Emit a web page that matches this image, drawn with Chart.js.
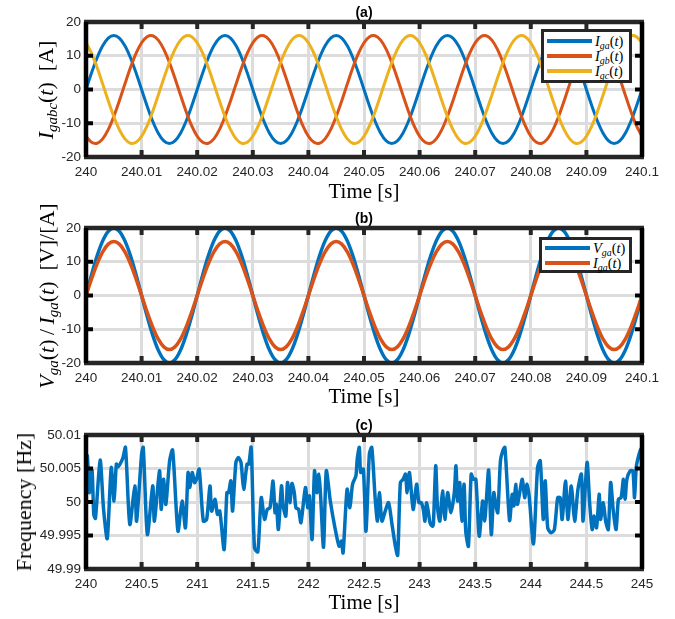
<!DOCTYPE html>
<html>
<head>
<meta charset="utf-8">
<script src="https://cdn.jsdelivr.net/npm/chart.js@4.4.1/dist/chart.umd.min.js"></script>
<style>
  body { margin: 0; background: #fff; width: 675px; height: 619px; position: relative; overflow: hidden; }
  canvas { position: absolute; left: 0; }
  .ytitle { position: absolute; font-family: "Liberation Serif", serif; font-size: 22px; line-height: 1; white-space: nowrap;
            transform: translate(-50%, -50%) rotate(-90deg); color: #000; }
  .ytitle sub, .ltext sub { font-size: 0.68em; line-height: 0; vertical-align: -0.3em; }
  .lbox { position: absolute; background: #fff; border: 3px solid #262626; box-sizing: border-box; }
  .sw { position: absolute; height: 4px; width: 45px; }
  .ltext { position: absolute; font-family: "Liberation Serif", serif; font-size: 14.5px; line-height: 1; transform: translateY(-50%); white-space: nowrap; }
</style>
</head>
<body>
<canvas id="chartA" width="675" height="205" style="top:0px"></canvas>
<canvas id="chartB" width="675" height="205" style="top:205px"></canvas>
<canvas id="chartC" width="675" height="209" style="top:410px"></canvas>

<div class="ytitle" style="left:46px;top:90px"><i>I</i><sub><i>gabc</i></sub>(<i>t</i>)&nbsp;&nbsp;[A]</div>
<div class="ytitle" style="left:47px;top:296px"><i>V</i><sub><i>ga</i></sub>(<i>t</i>)&thinsp;/&thinsp;<i>I</i><sub><i>ga</i></sub>(<i>t</i>)&nbsp;&nbsp;[V]/[A]</div>
<div class="ytitle" style="left:24px;top:502px">Frequency&nbsp;[Hz]</div>

<!-- legend (a) -->
<div class="lbox" style="left:541px;top:29px;width:91px;height:54px"></div>
<div class="sw" style="left:547px;top:39px;background:#0072BD"></div>
<div class="ltext" style="left:595px;top:41px"><i>I</i><sub><i>ga</i></sub>(<i>t</i>)</div>
<div class="sw" style="left:547px;top:54px;background:#D95319"></div>
<div class="ltext" style="left:595px;top:56px"><i>I</i><sub><i>gb</i></sub>(<i>t</i>)</div>
<div class="sw" style="left:547px;top:69px;background:#EDB120"></div>
<div class="ltext" style="left:595px;top:71px"><i>I</i><sub><i>gc</i></sub>(<i>t</i>)</div>

<!-- legend (b) -->
<div class="lbox" style="left:539px;top:237px;width:93px;height:36px"></div>
<div class="sw" style="left:545px;top:246px;background:#0072BD"></div>
<div class="ltext" style="left:593px;top:248px"><i>V</i><sub><i>ga</i></sub>(<i>t</i>)</div>
<div class="sw" style="left:545px;top:261px;background:#D95319"></div>
<div class="ltext" style="left:593px;top:263px"><i>I</i><sub><i>ga</i></sub>(<i>t</i>)</div>

<script>
// time axis of panels (a) and (b), 1 ms samples
const timeAB = [
  240.000, 240.001, 240.002, 240.003, 240.004, 240.005, 240.006, 240.007, 240.008, 240.009,
  240.010, 240.011, 240.012, 240.013, 240.014, 240.015, 240.016, 240.017, 240.018, 240.019,
  240.020, 240.021, 240.022, 240.023, 240.024, 240.025, 240.026, 240.027, 240.028, 240.029,
  240.030, 240.031, 240.032, 240.033, 240.034, 240.035, 240.036, 240.037, 240.038, 240.039,
  240.040, 240.041, 240.042, 240.043, 240.044, 240.045, 240.046, 240.047, 240.048, 240.049,
  240.050, 240.051, 240.052, 240.053, 240.054, 240.055, 240.056, 240.057, 240.058, 240.059,
  240.060, 240.061, 240.062, 240.063, 240.064, 240.065, 240.066, 240.067, 240.068, 240.069,
  240.070, 240.071, 240.072, 240.073, 240.074, 240.075, 240.076, 240.077, 240.078, 240.079,
  240.080, 240.081, 240.082, 240.083, 240.084, 240.085, 240.086, 240.087, 240.088, 240.089,
  240.090, 240.091, 240.092, 240.093, 240.094, 240.095, 240.096, 240.097, 240.098, 240.099,
  240.100
];

const iga = [
  0, 4.94, 9.4, 12.94, 15.22, 16, 15.22, 12.94, 9.4, 4.94, 0, -4.94, -9.4, -12.94, -15.22, -16, -15.22, -12.94, -9.4, -4.94,
  0, 4.94, 9.4, 12.94, 15.22, 16, 15.22, 12.94, 9.4, 4.94, 0, -4.94, -9.4, -12.94, -15.22, -16, -15.22, -12.94, -9.4, -4.94,
  0, 4.94, 9.4, 12.94, 15.22, 16, 15.22, 12.94, 9.4, 4.94, 0, -4.94, -9.4, -12.94, -15.22, -16, -15.22, -12.94, -9.4, -4.94,
  0, 4.94, 9.4, 12.94, 15.22, 16, 15.22, 12.94, 9.4, 4.94, 0, -4.94, -9.4, -12.94, -15.22, -16, -15.22, -12.94, -9.4, -4.94,
  0, 4.94, 9.4, 12.94, 15.22, 16, 15.22, 12.94, 9.4, 4.94, 0, -4.94, -9.4, -12.94, -15.22, -16, -15.22, -12.94, -9.4, -4.94,
  0
];
const igb = [
  -13.86, -15.65, -15.91, -14.62, -11.89, -8, -3.33, 1.67, 6.51, 10.71, 13.86, 15.65, 15.91, 14.62, 11.89, 8, 3.33, -1.67, -6.51, -10.71,
  -13.86, -15.65, -15.91, -14.62, -11.89, -8, -3.33, 1.67, 6.51, 10.71, 13.86, 15.65, 15.91, 14.62, 11.89, 8, 3.33, -1.67, -6.51, -10.71,
  -13.86, -15.65, -15.91, -14.62, -11.89, -8, -3.33, 1.67, 6.51, 10.71, 13.86, 15.65, 15.91, 14.62, 11.89, 8, 3.33, -1.67, -6.51, -10.71,
  -13.86, -15.65, -15.91, -14.62, -11.89, -8, -3.33, 1.67, 6.51, 10.71, 13.86, 15.65, 15.91, 14.62, 11.89, 8, 3.33, -1.67, -6.51, -10.71,
  -13.86, -15.65, -15.91, -14.62, -11.89, -8, -3.33, 1.67, 6.51, 10.71, 13.86, 15.65, 15.91, 14.62, 11.89, 8, 3.33, -1.67, -6.51, -10.71,
  -13.86
];
const igc = [
  13.86, 10.71, 6.51, 1.67, -3.33, -8, -11.89, -14.62, -15.91, -15.65, -13.86, -10.71, -6.51, -1.67, 3.33, 8, 11.89, 14.62, 15.91, 15.65,
  13.86, 10.71, 6.51, 1.67, -3.33, -8, -11.89, -14.62, -15.91, -15.65, -13.86, -10.71, -6.51, -1.67, 3.33, 8, 11.89, 14.62, 15.91, 15.65,
  13.86, 10.71, 6.51, 1.67, -3.33, -8, -11.89, -14.62, -15.91, -15.65, -13.86, -10.71, -6.51, -1.67, 3.33, 8, 11.89, 14.62, 15.91, 15.65,
  13.86, 10.71, 6.51, 1.67, -3.33, -8, -11.89, -14.62, -15.91, -15.65, -13.86, -10.71, -6.51, -1.67, 3.33, 8, 11.89, 14.62, 15.91, 15.65,
  13.86, 10.71, 6.51, 1.67, -3.33, -8, -11.89, -14.62, -15.91, -15.65, -13.86, -10.71, -6.51, -1.67, 3.33, 8, 11.89, 14.62, 15.91, 15.65,
  13.86
];
const vga = [
  0, 6.18, 11.76, 16.18, 19.02, 20, 19.02, 16.18, 11.76, 6.18, 0, -6.18, -11.76, -16.18, -19.02, -20, -19.02, -16.18, -11.76, -6.18,
  0, 6.18, 11.76, 16.18, 19.02, 20, 19.02, 16.18, 11.76, 6.18, 0, -6.18, -11.76, -16.18, -19.02, -20, -19.02, -16.18, -11.76, -6.18,
  0, 6.18, 11.76, 16.18, 19.02, 20, 19.02, 16.18, 11.76, 6.18, 0, -6.18, -11.76, -16.18, -19.02, -20, -19.02, -16.18, -11.76, -6.18,
  0, 6.18, 11.76, 16.18, 19.02, 20, 19.02, 16.18, 11.76, 6.18, 0, -6.18, -11.76, -16.18, -19.02, -20, -19.02, -16.18, -11.76, -6.18,
  0, 6.18, 11.76, 16.18, 19.02, 20, 19.02, 16.18, 11.76, 6.18, 0, -6.18, -11.76, -16.18, -19.02, -20, -19.02, -16.18, -11.76, -6.18,
  0
];

// panel (c): frequency
const timeC = [
  240.000, 240.012, 240.030, 240.042, 240.055, 240.070, 240.085, 240.127, 240.158, 240.191,
  240.227, 240.252, 240.273, 240.288, 240.309, 240.333, 240.355, 240.394, 240.439, 240.455,
  240.500, 240.515, 240.552, 240.600, 240.615, 240.661, 240.676, 240.697, 240.718, 240.752,
  240.779, 240.827, 240.864, 240.894, 240.918, 240.933, 240.955, 240.976, 240.994, 241.018,
  241.055, 241.085, 241.115, 241.130, 241.161, 241.182, 241.203, 241.242, 241.267, 241.282,
  241.303, 241.318, 241.348, 241.370, 241.394, 241.418, 241.448, 241.464, 241.485, 241.515,
  241.545, 241.576, 241.606, 241.630, 241.655, 241.682,
  241.700, 241.712, 241.730, 241.758, 241.773, 241.797, 241.812, 241.833, 241.852, 241.873,
  241.888, 241.912, 241.933, 241.973, 241.994, 242.009, 242.033, 242.055, 242.076, 242.094,
  242.109, 242.136, 242.161, 242.197, 242.236, 242.276, 242.297, 242.312, 242.348, 242.373,
  242.397, 242.427, 242.439, 242.458, 242.470, 242.494, 242.518, 242.548, 242.570, 242.600,
  242.621, 242.639, 242.661, 242.691, 242.721, 242.752, 242.782, 242.803, 242.827, 242.852,
  242.873, 242.888, 242.909, 242.942, 242.973, 242.994, 243.015, 243.033, 243.048, 243.064,
  243.094, 243.115, 243.124, 243.145, 243.161, 243.182, 243.206, 243.227, 243.252, 243.282,
  243.312, 243.327,
  243.342, 243.361, 243.379, 243.400, 243.415, 243.439, 243.464, 243.485, 243.506, 243.536,
  243.567, 243.585, 243.600, 243.621, 243.645, 243.667, 243.682, 243.703, 243.727, 243.748,
  243.767, 243.809, 243.833, 243.848, 243.864, 243.879, 243.900, 243.924, 243.945, 243.964,
  243.985,
  244.024, 244.061, 244.085, 244.112, 244.130, 244.152, 244.182, 244.212, 244.242, 244.264,
  244.282, 244.312, 244.333, 244.364, 244.394, 244.424, 244.455, 244.470, 244.506, 244.530,
  244.552, 244.567, 244.591, 244.615, 244.627, 244.652, 244.673, 244.697, 244.718, 244.742,
  244.767, 244.788, 244.812, 244.833, 244.848, 244.864, 244.894, 244.918, 244.933, 244.948,
  244.970, 244.991, 245.000
];
const freqC = [
  50.00465, 50.0069, 50.0014, 50.00465, 50.00475, 49.99815, 49.99755, 50.00625, 49.9989, 49.99455,
  50.00515, 50.00015, 50.00565, 50.00525, 50.00575, 50.00665, 50.00815, 49.99665, 50.0024, 49.99715,
  50.00715, 50.00815, 49.99515, 50.0024, 49.99715, 50.00465, 49.9989, 50.0034, 49.99965, 50.00615,
  50.00775, 49.99565, 50.00015, 49.99615, 50.0044, 50.00215, 50.0044, 50.0029, 50.0034, 50.0049,
  49.99715, 49.9974, 50.0024, 49.99865, 50.0004, 49.99815, 49.99865, 49.9929, 50.0014, 50.0014,
  50.00315, 49.99865, 50.0059, 50.00665, 50.0059, 50.0019, 50.00565, 50.00565, 50.00815, 49.99315,
  49.99255, 50.00065, 49.9974, 49.9989, 49.99915, 50.00315,
  49.9984, 49.99965, 49.9959, 50.0024, 49.9994, 49.9979, 50.0029, 49.9999, 50.00275, 50.0014,
  49.99915, 49.9989, 49.9969, 50.00215, 49.99915, 50.0009, 49.9944, 50.00465, 50.0014, 50.00415,
  50.00115, 49.99325, 50.00465, 50.00015, 49.9964, 49.9934, 49.99415, 49.9924, 50.0019, 49.99915,
  50.00265, 50.0039, 50.0064, 50.00815, 50.0044, 50.0049, 49.99565, 50.00715, 50.00815, 50.00065,
  49.99715, 50.0014, 49.99715, 49.99865, 49.9999, 49.99665, 49.9934, 49.99205, 50.0029, 50.0034,
  50.00415, 50.0014, 50.0044, 49.9989, 50.00265, 49.9999, 49.9999, 49.9989, 49.99715, 49.9999,
  49.9969, 49.9964, 49.99665, 50.0054, 49.99915, 49.99715, 50.00165, 49.9974, 50.0014, 49.9984,
  50.0014, 50.0054,
  50.00015, 50.0029, 49.99715, 50.00265, 49.99565, 49.9934, 50.00415, 50.0034, 50.0034, 49.9949,
  50.00015, 49.99715, 50.00015, 50.00475, 49.99515, 50.0014, 49.9999, 49.9984, 50.00615, 50.00765,
  50.00815, 49.99725, 50.00115, 49.9994, 50.00265, 49.99965, 50.0014, 50.0034, 50.00065, 50.00265,
  50.0009,
  49.99375, 50.00515, 50.00615, 49.9974, 50.00315, 49.99615, 49.9954, 49.9959, 50.00065, 50.00065,
  49.9974, 50.00315, 49.9974, 50.0024, 49.99715, 50.0019, 50.00415, 49.99715, 50.0059, 49.99965,
  49.9959, 49.9979, 49.99615, 50.00115, 49.9974, 49.9999, 49.99715, 49.9959, 50.0029, 49.99865,
  49.9959, 50.0004, 50.00065, 50.0034, 50.0004, 50.0034, 50.00465, 50.00465, 50.00065, 50.00515,
  50.0069, 50.0079, 50.0024
];

// tick values and labels
const xTicksAB = [240, 240.01, 240.02, 240.03, 240.04, 240.05, 240.06, 240.07, 240.08, 240.09, 240.1];
const xLabelsAB = ['240', '240.01', '240.02', '240.03', '240.04', '240.05', '240.06', '240.07', '240.08', '240.09', '240.1'];
const yTicksAB = [-20, -10, 0, 10, 20];
const yLabelsAB = ['-20', '-10', '0', '10', '20'];
const xTicksC = [240, 240.5, 241, 241.5, 242, 242.5, 243, 243.5, 244, 244.5, 245];
const xLabelsC = ['240', '240.5', '241', '241.5', '242', '242.5', '243', '243.5', '244', '244.5', '245'];
const yTicksC = [49.99, 49.995, 50, 50.005, 50.01];
const yLabelsC = ['49.99', '49.995', '50', '50.005', '50.01'];

const BLUE = '#0072BD', ORANGE = '#D95319', YELLOW = '#EDB120';

Chart.defaults.font.family = '"Liberation Sans", Arial, sans-serif';
Chart.defaults.color = '#262626';

function pts(xs, ys) {
  return xs.map((x, i) => ({ x: x, y: ys[i] }));
}

// box, inward ticks and panel title, MATLAB style
const frame = {
  id: 'frame',
  afterDatasetsDraw(chart, args, opts) {
    const { ctx, chartArea: a, scales: { x, y } } = chart;
    ctx.save();
    ctx.lineCap = 'butt';
    ctx.strokeStyle = '#262626';
    ctx.lineWidth = 4;
    const seg = (x1, y1, x2, y2) => { ctx.beginPath(); ctx.moveTo(x1, y1); ctx.lineTo(x2, y2); ctx.stroke(); };
    x.ticks.forEach(t => {
      const px = x.getPixelForValue(t.value);
      seg(px, a.top, px, a.top + 7);
      seg(px, a.bottom, px, a.bottom - 7);
    });
    ctx.strokeStyle = '#000';
    y.ticks.forEach(t => {
      const py = y.getPixelForValue(t.value);
      seg(a.left, py, a.left + 7, py);
      seg(a.right, py, a.right - 7, py);
    });
    ctx.lineWidth = 4.5;
    ctx.strokeStyle = '#262626';
    seg(a.left - 2, a.top, a.right + 2, a.top);
    seg(a.left - 2, a.bottom, a.right + 2, a.bottom);
    ctx.strokeStyle = '#000';
    seg(a.left, a.top, a.left, a.bottom);
    seg(a.right, a.top, a.right, a.bottom);
    ctx.fillStyle = '#000';
    ctx.font = 'bold 14px "Liberation Sans", Arial, sans-serif';
    ctx.textAlign = 'center';
    ctx.textBaseline = 'middle';
    ctx.fillText(opts.label, (a.left + a.right) / 2, a.top - 9);
    ctx.restore();
  }
};

function makeChart(id, datasets, o) {
  return new Chart(document.getElementById(id), {
    type: 'line',
    data: { datasets: datasets },
    plugins: [frame],
    options: {
      responsive: false,
      animation: false,
      layout: { padding: { left: 0, right: 33, top: o.top, bottom: 0 } },
      plugins: {
        legend: { display: false },
        tooltip: { enabled: false },
        frame: { label: o.label }
      },
      elements: { point: { radius: 0 }, line: { borderJoinStyle: 'round', borderCapStyle: 'round' } },
      scales: {
        x: {
          type: 'linear',
          min: o.xTicks[0],
          max: o.xTicks[o.xTicks.length - 1],
          afterBuildTicks: s => { s.ticks = o.xTicks.map(v => ({ value: v })); },
          afterFit: s => { s.height = o.xh; },
          grid: { color: '#dcdcdc', lineWidth: 3, drawTicks: false },
          border: { display: false },
          ticks: {
            autoSkip: false, maxRotation: 0, padding: 7,
            font: { size: 13.5 },
            callback: (v, i) => o.xLabels[i]
          },
          title: {
            display: true, text: 'Time [s]', color: '#000',
            font: { family: '"Liberation Serif", serif', size: 21, lineHeight: 1.2 },
            padding: { top: 0, bottom: o.tpad }
          }
        },
        y: {
          min: o.yTicks[0],
          max: o.yTicks[o.yTicks.length - 1],
          afterBuildTicks: s => { s.ticks = o.yTicks.map(v => ({ value: v })); },
          afterFit: s => { s.width = 86; },
          grid: { color: '#dcdcdc', lineWidth: 3, drawTicks: false },
          border: { display: false },
          ticks: {
            padding: 5,
            font: { size: 13.5 },
            callback: (v, i) => o.yLabels[i]
          }
        }
      }
    }
  });
}

makeChart('chartA', [
  { data: pts(timeAB, iga), borderColor: BLUE, borderWidth: 3, tension: 0.3, order: 3 },
  { data: pts(timeAB, igb), borderColor: ORANGE, borderWidth: 3, tension: 0.3, order: 2 },
  { data: pts(timeAB, igc), borderColor: YELLOW, borderWidth: 3, tension: 0.3, order: 1 }
], { label: '(a)', top: 22, xh: 48, tpad: 0, xTicks: xTicksAB, xLabels: xLabelsAB, yTicks: yTicksAB, yLabels: yLabelsAB });

makeChart('chartB', [
  { data: pts(timeAB, vga), borderColor: BLUE, borderWidth: 3.5, tension: 0.3, order: 2 },
  { data: pts(timeAB, iga), borderColor: ORANGE, borderWidth: 3.5, tension: 0.3, order: 1 }
], { label: '(b)', top: 23, xh: 47, tpad: 0, xTicks: xTicksAB, xLabels: xLabelsAB, yTicks: yTicksAB, yLabels: yLabelsAB });

makeChart('chartC', [
  { data: pts(timeC, freqC), borderColor: BLUE, borderWidth: 3.5, tension: 0.25 }
], { label: '(c)', top: 25, xh: 50, tpad: 3, xTicks: xTicksC, xLabels: xLabelsC, yTicks: yTicksC, yLabels: yLabelsC });
</script>
</body>
</html>
